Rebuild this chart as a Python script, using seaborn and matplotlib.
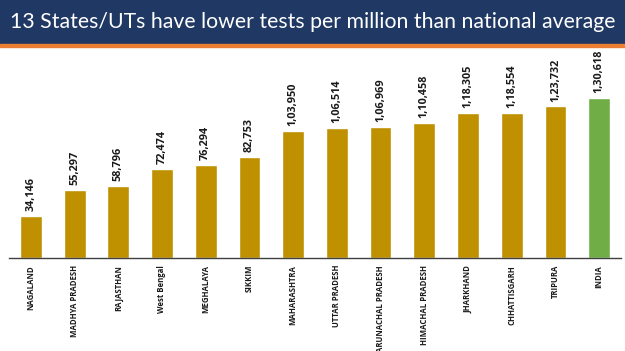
import matplotlib
matplotlib.use("Agg")
import matplotlib.pyplot as plt
import seaborn as sns
import pandas as pd

states = ["NAGALAND", "MADHYA PRADESH", "RAJASTHAN", "West Bengal", "MEGHALAYA",
          "SIKKIM", "MAHARASHTRA", "UTTAR PRADESH", "ARUNACHAL PRADESH",
          "HIMACHAL PRADESH", "JHARKHAND", "CHHATTISGARH", "TRIPURA", "INDIA"]
tests_per_million = [34146, 55297, 58796, 72474, 76294, 82753, 103950,
                     106514, 106969, 110458, 118305, 118554, 123732, 130618]
value_labels = ["34,146", "55,297", "58,796", "72,474", "76,294", "82,753", "1,03,950",
                "1,06,514", "1,06,969", "1,10,458", "1,18,305", "1,18,554", "1,23,732", "1,30,618"]

GOLD = "#BF9000"
GREEN = "#70AD47"
NAVY = "#1F3864"
ORANGE = "#ED7D31"
LABEL_FONT = ["Open Sans", "DejaVu Sans"]

sns.set_theme(style="white")
plt.rcParams["font.family"] = ["Open Sans", "DejaVu Sans"]

df = pd.DataFrame({"state": states, "tpm": tests_per_million})
palette = [GREEN if s == "INDIA" else GOLD for s in states]

fig = plt.figure(figsize=(6.25, 3.51), dpi=100)

# title banner
fig.patches.append(plt.Rectangle((0, 1 - 44 / 351), 1, 44 / 351, transform=fig.transFigure,
                                 color=NAVY, zorder=0))
fig.patches.append(plt.Rectangle((0, 1 - 47 / 351), 1, 2.5 / 351, transform=fig.transFigure,
                                 color=ORANGE, zorder=0))
fig.text(0.5, 1 - 22 / 351, "13 States/UTs have lower tests per million than national average",
         ha="center", va="center", color="white", fontsize=15.3, family=["Lato", "DejaVu Sans"])

ax = fig.add_axes([9 / 625, 1 - 258 / 351, 612 / 625, 203 / 351])
sns.barplot(data=df, x="state", y="tpm", hue="state", palette=palette, legend=False,
            width=0.5, ax=ax, saturation=1)
ax.set_ylim(0, 130618 * 203 / 160)
ax.set_xlim(-0.5, len(states) - 0.5)

for i, (v, lab) in enumerate(zip(tests_per_million, value_labels)):
    ax.text(i, v + 4000, lab, rotation=90, ha="center", va="bottom",
            fontsize=7.8, fontweight="bold", color="#1a1a1a", family=LABEL_FONT)

ax.set_xlabel("")
ax.set_ylabel("")
ax.set_yticks([])
ax.tick_params(axis="x", length=0, pad=5)
plt.setp(ax.get_xticklabels(), rotation=90, fontsize=5.6, fontweight="bold",
         color="#1a1a1a", family=LABEL_FONT)
for side in ["top", "right", "left"]:
    ax.spines[side].set_visible(False)
ax.spines["bottom"].set_color("#404040")
ax.spines["bottom"].set_linewidth(1.0)

fig.savefig("out.png", dpi=100)
